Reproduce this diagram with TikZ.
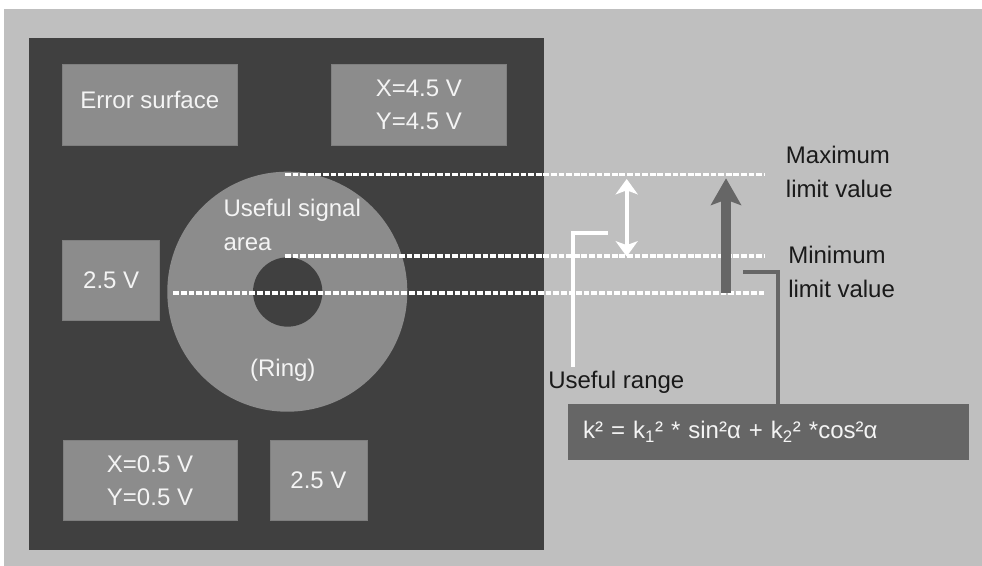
\documentclass[tikz,border=0pt]{standalone}
\usepackage{fontspec}
\setmainfont{Liberation Sans}
\usetikzlibrary{arrows.meta}
\definecolor{bgray}{HTML}{BFBFBF}
\definecolor{panel}{HTML}{404040}
\definecolor{boxg}{HTML}{8C8C8C}
\definecolor{boxbd}{HTML}{7F7F7F}
\definecolor{dgray}{HTML}{666666}
\definecolor{txtw}{HTML}{F4F4F4}
\definecolor{txtb}{HTML}{1A1A1A}
\begin{document}
\begin{tikzpicture}[x=0.75pt,y=-0.75pt,
  vbox/.style={draw=boxbd, fill=boxg, line width=0.75pt, text=txtw,
    font=\fontsize{18}{24.75}\selectfont, align=center, inner sep=0pt},
  lbl/.style={text=txtb, font=\fontsize{18}{25.5}\selectfont, align=left, inner sep=0pt, anchor=west},
  wlbl/.style={text=txtw, font=\fontsize{18}{25.5}\selectfont, align=left, inner sep=0pt},
  limline/.style={draw=white, line width=2.8pt, dash pattern=on 4.3pt off 1.4pt},
  wconn/.style={draw=white, line width=3pt, line join=miter},
  gconn/.style={draw=dgray, line width=3pt, line join=miter}]
% background
\fill[white] (0,0) rectangle (982,566);
\fill[bgray] (4,9) rectangle (982,566);
\fill[panel] (29,38.5) rectangle (544,550);
% ring
\node[circle, fill=boxg, inner sep=0pt, minimum size=180pt] (ring) at (287.3,291.7) {};
\node[circle, fill=panel, inner sep=0pt, minimum size=52pt] (hole) at (287.7,292) {};
\node[wlbl, anchor=west] (usa) at (223.3,224.7) {Useful signal\\area};
\node[wlbl] (rng) at (282.8,369.8) {(Ring)};
% boxes
\node[vbox, minimum width=130.8pt, minimum height=60.5pt] (err) at (149.8,105.3) {\raisebox{3.75pt}[\height][\depth]{Error surface}};
\node[vbox, minimum width=130.7pt, minimum height=60.5pt] (xy45) at (418.9,105.3) {X=4.5 V\\Y=4.5 V};
\node[vbox, minimum width=72.75pt, minimum height=59.8pt] (mid25) at (111.2,280.2) {2.5 V};
\node[vbox, minimum width=130.5pt, minimum height=60pt] (xy05) at (150,480.7) {X=0.5 V\\Y=0.5 V};
\node[vbox, minimum width=72.75pt, minimum height=60pt] (bot25) at (318.5,480.7) {2.5 V};
% formula box
\node[fill=dgray, minimum width=301pt, minimum height=42pt, inner xsep=11.5pt, inner ysep=0pt,
  text width=278pt, align=left, text=txtw, font=\fontsize{18}{22}\selectfont] (formula) at (768.4,432)
  {k² = k\textsubscript{1}² * sin²α + k\textsubscript{2}² *cos²α};
% labels right
\node[lbl] (maxl) at (785.7,172.3) {Maximum\\limit value};
\node[lbl] (minl) at (788,272) {Minimum\\limit value};
\node[lbl] (ur) at (548,382.6) {Useful range};
% dashed lines
\coordinate (maxA) at (285,174.5);
\coordinate (maxB) at (765,174.5);
\coordinate (minA) at (285,255.7);
\coordinate (minB) at (765,255.7);
\coordinate (botA) at (173.3,292.7);
\coordinate (botB) at (765,292.7);
\draw[limline] (maxA) -- (maxB);
\draw[limline] (minA) -- (minB);
\draw[limline] (botA) -- (botB);
% white double arrow
\coordinate (ua1) at (626.7,179);
\coordinate (ua2) at (626.7,256.5);
\draw[white, line width=3pt, {Stealth[width=16.5pt,length=11.5pt,inset=3pt]}-{Stealth[width=16.5pt,length=11.5pt,inset=3pt]}] (ua1) -- (ua2);
% gray arrow
\coordinate (ga1) at (726,292.7);
\coordinate (ga2) at (726,178.3);
\draw[dgray, line width=7.5pt, -{Stealth[width=22.5pt,length=20pt,inset=4pt]}] (ga1) -- (ga2);
% connectors
\coordinate (ur1) at (607.7,233.3);
\coordinate (ur2) at (573.3,366.7);
\draw[wconn] (ur1) -| (ur2);
\coordinate (g1) at (743,271.7);
\coordinate (g2) at (778.3,271.7);
\draw[gconn] (g1) -| (g2 |- formula.north);
\end{tikzpicture}
\end{document}
